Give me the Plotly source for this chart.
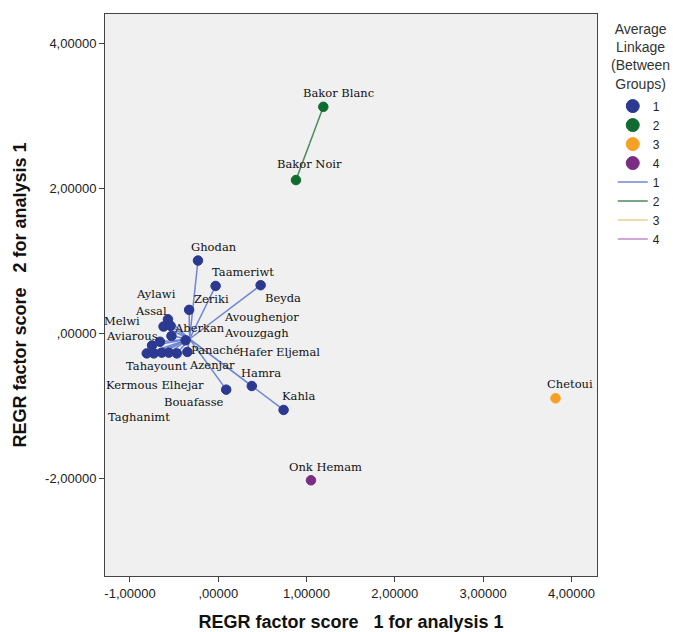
import plotly.graph_objects as go

# ---- data ----
names = ["Ghodan", "Taameriwt", "Beyda", "Zeriki", "Hamra", "Kahla", "Bouafasse",
         "Aylawi", "Assal", "Aberkan", "Avouzgagh", "Kermous Elhejar", "Melwi",
         "Aviarous", "Tahayount", "Taghanimt", "Azenjar", "Hafer Eljemal", "Panaché",
         "Avoughenjor", "Bakor Blanc", "Bakor Noir", "Chetoui", "Onk Hemam"]
score1 = [-0.23, -0.03, 0.48, -0.33, 0.38, 0.74, 0.09,
          -0.57, -0.62, -0.54, -0.53, -0.66, -0.75,
          -0.81, -0.73, -0.64, -0.56, -0.47, -0.35,
          -0.37, 1.19, 0.88, 3.82, 1.05]
score2 = [1.00, 0.65, 0.66, 0.32, -0.73, -1.06, -0.78,
          0.19, 0.09, 0.10, -0.04, -0.12, -0.17,
          -0.28, -0.28, -0.27, -0.27, -0.28, -0.26,
          -0.10, 3.12, 2.11, -0.90, -2.03]
cluster = [1, 1, 1, 1, 1, 1, 1,
           1, 1, 1, 1, 1, 1,
           1, 1, 1, 1, 1, 1,
           1, 2, 2, 3, 4]
groups = [1, 2, 3, 4]
x_ticks = [-1, 0, 1, 2, 3, 4]
x_tick_labels = ["-1,00000", ",00000", "1,00000", "2,00000", "3,00000", "4,00000"]
y_ticks = [-2, 0, 2, 4]
y_tick_labels = ["-2,00000", ",00000", "2,00000", "4,00000"]

# ---- styles ----
marker_colors = {1: "#2b3990", 2: "#0f6b2f", 3: "#f7a023", 4: "#7b2d86"}
line_colors = {1: "#6f86d6", 2: "#4a8a5c", 3: "#e6d38e", 4: "#c08ac8"}
# label offsets in pixels (dx right, dy down)
label_offsets = [(16, -14), (27, -14), (22, 13), (22, -11), (9, -13), (15, -14), (-32, 12),
                 (-12, -25), (-13, -16), (29, 2), (85, -3), (-5, 43), (-30, -24),
                 (-15, -17), (3, 13), (-23, 64), (43, 12), (103, -1), (28, -2),
                 (76, -23), (15, -14), (14, -16), (14, -14), (15, -13)]

fig = go.Figure()

# spokes from each group's centroid to its members
for g in groups:
    xs = [x for x, c in zip(score1, cluster) if c == g]
    ys = [y for y, c in zip(score2, cluster) if c == g]
    cx = sum(xs) / len(xs)
    cy = sum(ys) / len(ys)
    lx, ly = [], []
    if len(xs) > 1:
        for x, y in zip(xs, ys):
            lx += [cx, x, None]
            ly += [cy, y, None]
    else:
        lx, ly = [None], [None]
    fig.add_trace(go.Scatter(
        x=lx, y=ly, mode="lines", name=str(g),
        line=dict(color=line_colors[g], width=1.5),
        legendrank=10 + g, hoverinfo="skip"))

# points
for g in groups:
    xs = [x for x, c in zip(score1, cluster) if c == g]
    ys = [y for y, c in zip(score2, cluster) if c == g]
    fig.add_trace(go.Scatter(
        x=xs, y=ys, mode="markers", name=str(g), showlegend=False,
        marker=dict(size=9.5, color=marker_colors[g],
                    line=dict(width=1, color=marker_colors[g])),
        hoverinfo="skip"))
    # legend-only entry with a larger symbol
    fig.add_trace(go.Scatter(
        x=[None], y=[None], mode="markers", name=str(g),
        marker=dict(size=13, color=marker_colors[g],
                    line=dict(width=1, color=marker_colors[g])),
        legendrank=g, hoverinfo="skip"))

for n, x, y, (dx, dy) in zip(names, score1, score2, label_offsets):
    fig.add_annotation(x=x, y=y, text=n, showarrow=False,
                       xshift=dx, yshift=-dy,
                       font=dict(family="DejaVu Serif", size=11.5, color="#111111"))

fig.add_annotation(xref="paper", yref="paper", x=1.0894, y=0.991, xanchor="center", yanchor="top",
                   text="Average<br>Linkage<br>(Between<br>Groups)", showarrow=False, align="center",
                   font=dict(family="Liberation Sans", size=14, color="#333333"))

axis_common = dict(showgrid=False, zeroline=False, showline=True, linecolor="#444444",
                   linewidth=1, mirror=True, ticks="outside", ticklen=5, automargin=False,
                   tickcolor="#444444", tickfont=dict(family="Liberation Sans", size=13, color="#222222"))

fig.update_layout(
    width=673, height=632,
    margin=dict(l=105, r=76, t=14, b=56, autoexpand=False),
    paper_bgcolor="white", plot_bgcolor="#f0f0f0",
    showlegend=True,
    legend=dict(
        x=1.032, xanchor="left", y=0.862, yanchor="top",
        font=dict(family="Liberation Sans", size=12, color="#222222"),
        bgcolor="rgba(0,0,0,0)", tracegroupgap=0, itemwidth=30,
    ),
    xaxis=dict(range=[-1.283, 4.29], tickvals=x_ticks, ticktext=x_tick_labels,
               title=dict(text="REGR factor score   1 for analysis 1", standoff=19,
                          font=dict(family="Liberation Sans", size=18, color="#111111", weight="bold")),
               **axis_common),
    yaxis=dict(range=[-3.35, 4.4], tickvals=y_ticks, ticktext=y_tick_labels,
               title=dict(text="REGR factor score   2 for analysis 1", standoff=13,
                          font=dict(family="Liberation Sans", size=18, color="#111111", weight="bold")),
               **axis_common),
)

fig.write_html("out.html")
